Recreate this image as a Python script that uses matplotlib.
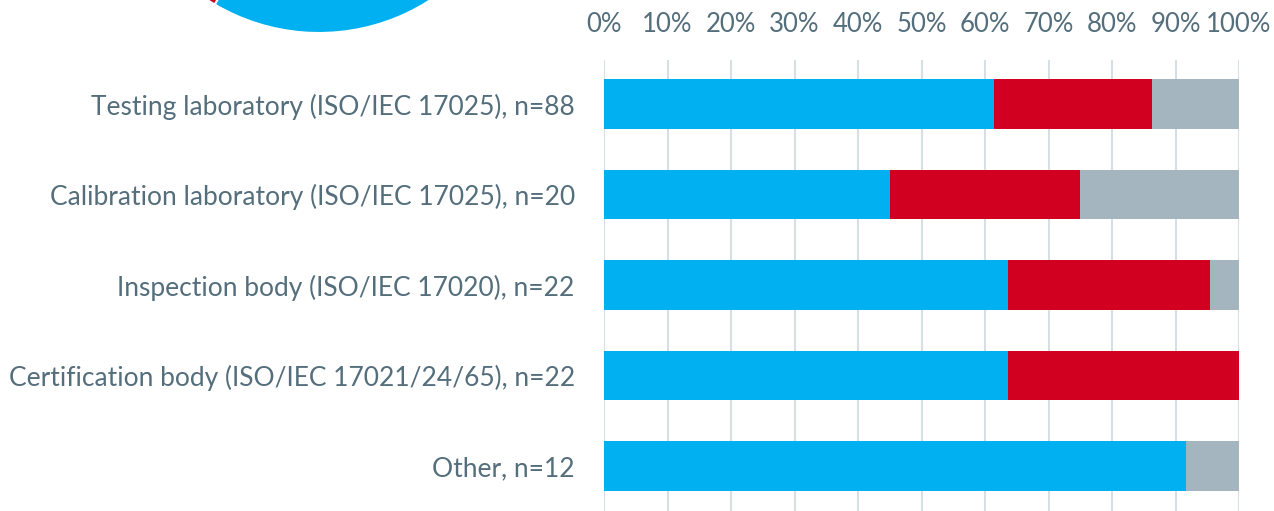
import matplotlib.pyplot as plt
import numpy as np

# Data (counts per category: yes / no / don't know)
categories = [
    'Testing laboratory (ISO/IEC 17025), n=88',
    'Calibration laboratory (ISO/IEC 17025), n=20',
    'Inspection body (ISO/IEC 17020), n=22',
    'Certification body (ISO/IEC 17021/24/65), n=22',
    'Other, n=12',
]
totals = [88, 20, 22, 22, 12]
blue_counts = [54, 9, 14, 14, 11]
red_counts = [22, 6, 7, 8, 0]
grey_counts = [12, 5, 1, 0, 1]

# Pie at top-left (mostly cut off)
pie_values = [58.5, 27.5, 14]

tick_values = list(range(0, 101, 10))
tick_labels = [f'{v}%' for v in tick_values]

BLUE = '#00b0f0'
RED = '#d20020'
GREY = '#a5b5c0'
TEXT = '#546e7c'
GRID = '#d6dfe4'

plt.rcParams['font.family'] = ['Lato', 'DejaVu Sans']

fig = plt.figure(figsize=(12.74, 5.11), dpi=100)

# Pie chart, centred above the visible area
W, H = 1274, 511
cx, cy, r = 319, -172, 205
pax = fig.add_axes([(cx - r) / W, (H - cy - r) / H, 2 * r / W, 2 * r / H])
pax.pie(pie_values, colors=[BLUE, RED, GREY], startangle=90, counterclock=False,
        radius=1, wedgeprops=dict(edgecolor='white', linewidth=1.5))
pax.set_xlim(-1, 1)
pax.set_ylim(-1, 1)
pax.axis('off')

# Stacked percentage bars
ax = fig.add_axes([604 / W, 0, (1239 - 604) / W, (H - 60) / H])
y = np.arange(len(categories))
tot = np.array(totals, dtype=float)
b = np.array(blue_counts) / tot * 100
rd = np.array(red_counts) / tot * 100
g = np.array(grey_counts) / tot * 100

h = 0.55
ax.barh(y, b, height=h, color=BLUE, zorder=3)
ax.barh(y, rd, left=b, height=h, color=RED, zorder=3)
ax.barh(y, g, left=b + rd, height=h, color=GREY, zorder=3)

ax.set_xlim(0, 100)
ax.set_ylim(4.497, -0.486)
ax.set_xticks(tick_values)
ax.set_xticklabels(tick_labels)
ax.xaxis.tick_top()
ax.tick_params(axis='x', length=0, pad=16.5, labelsize=18.5, labelcolor=TEXT)
ax.set_yticks(y)
ax.set_yticklabels(categories)
ax.tick_params(axis='y', length=0, pad=21, labelsize=19, labelcolor=TEXT)
ax.grid(axis='x', color=GRID, linewidth=1.5, zorder=0)
for s in ax.spines.values():
    s.set_visible(False)

fig.savefig('out.png', dpi=100)
